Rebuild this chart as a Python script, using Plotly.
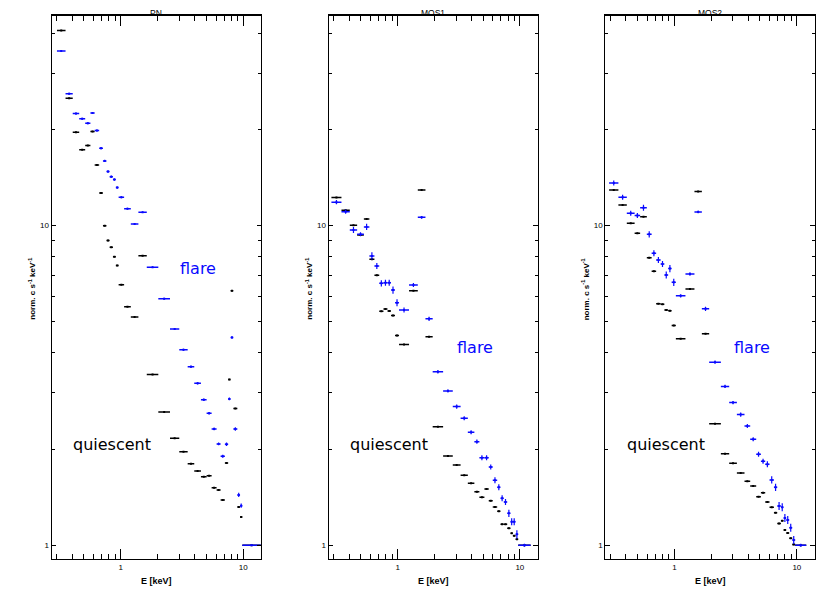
import numpy as np
import plotly.graph_objects as go

BLUE = "#0a0aff"
BLACK = "#000000"
FONT = "Liberation Sans"

# energy bin edges (keV) and spectra, one set per camera
PN_EDGES = [0.3006, 0.3533, 0.4045, 0.4569, 0.5114, 0.5641, 0.6113, 0.6653, 0.7145,
            0.7630, 0.8100, 0.8623, 0.9104, 0.9596, 1.064, 1.207, 1.392, 1.630, 2.026,
            2.524, 3.006, 3.520, 3.984, 4.519, 5.029, 5.525, 6.067, 6.542, 7.091, 7.544,
            7.891, 8.318, 8.967, 9.434, 9.85, 13.94]
PN_QUIESCENT = [40.75, 25.04, 19.60, 17.29, 17.80, 19.69, 15.49, 12.66, 10.0, 8.99, 8.56,
                7.99, 7.50, 6.53, 5.575, 5.18, 8.05, 3.42, 2.61, 2.16, 1.963, 1.80, 1.708,
                1.639, 1.651, 1.514, 1.489, 1.386, 1.809, 3.30, 6.26, 2.68, 1.318, 1.226, 1.0]
PN_FLARE = [35.2, 25.88, 22.41, 21.61, 20.91, 22.52, 19.83, 17.47, 15.94, 14.76, 14.23,
            13.93, 13.15, 12.27, 11.30, 10.12, 11.01, 7.41, 5.91, 4.75, 4.09, 3.62, 3.21,
            2.855, 2.588, 2.311, 2.075, 1.898, 2.07, 2.87, 4.47, 2.311, 1.437, 1.330, 1.0]
PN_FLARE_ERR_PCT = [0.6, 0.6, 0.7, 0.7, 0.7, 0.7, 0.7, 0.8, 0.8, 0.8, 0.8, 0.8, 0.8, 0.7,
                    0.6, 0.6, 0.6, 0.6, 0.6, 0.7, 0.7, 0.8, 0.8, 0.9, 0.9, 1.0, 1.0, 1.1,
                    1.2, 1.0, 0.8, 1.2, 1.5, 1.5, 0.5]

MOS1_EDGES = [0.2866, 0.3463, 0.4052, 0.4654, 0.5283, 0.5862, 0.6446, 0.7058, 0.7642,
              0.8242, 0.8809, 0.9502, 1.025, 1.238, 1.460, 1.687, 1.933, 2.353, 2.823,
              3.272, 3.750, 4.241, 4.663, 5.125, 5.561, 5.998, 6.520, 6.938, 7.386, 7.877,
              8.386, 8.759, 9.218, 9.701, 12.25]
MOS1_QUIESCENT = [12.24, 11.17, 10.03, 9.35, 10.49, 7.85, 7.00, 5.40, 5.48, 5.41, 5.23,
                  4.53, 4.25, 6.25, 12.93, 4.49, 2.35, 1.903, 1.783, 1.656, 1.563, 1.471,
                  1.413, 1.500, 1.379, 1.318, 1.278, 1.163, 1.163, 1.130, 1.090, 1.071,
                  1.044, 1.0]
MOS1_FLARE = [11.84, 11.06, 9.69, 9.40, 9.91, 8.04, 7.48, 6.60, 6.63, 6.63, 6.29, 5.74,
              5.45, 6.52, 10.62, 5.11, 3.49, 3.04, 2.715, 2.497, 2.257, 2.109, 1.880,
              1.880, 1.758, 1.597, 1.519, 1.403, 1.366, 1.259, 1.185, 1.185, 1.082, 1.0]
MOS1_FLARE_ERR_PCT = [1.5, 1.5, 2.2, 1.5, 2.2, 2.6, 2.2, 2.2, 2.2, 2.2, 2.6, 2.6, 1.8,
                      1.5, 1.0, 1.5, 1.2, 1.2, 1.5, 1.5, 1.5, 1.5, 1.8, 1.8, 1.8, 2.2,
                      2.2, 2.2, 2.2, 2.6, 2.6, 2.6, 2.9, 1.0]

MOS2_EDGES = [0.2924, 0.3484, 0.4081, 0.4727, 0.5243, 0.5947, 0.6511, 0.7086, 0.7712,
              0.8270, 0.8882, 0.9487, 1.027, 1.230, 1.457, 1.675, 1.922, 2.395, 2.801,
              3.237, 3.736, 4.159, 4.656, 5.087, 5.516, 5.982, 6.499, 6.914, 7.413, 7.786,
              8.191, 8.668, 9.171, 9.703, 11.94]
MOS2_QUIESCENT = [12.93, 11.61, 10.17, 9.47, 10.67, 7.94, 7.20, 5.70, 5.68, 5.45, 5.42,
                  4.87, 4.43, 6.34, 12.78, 4.59, 2.40, 1.934, 1.805, 1.684, 1.586, 1.533,
                  1.419, 1.461, 1.366, 1.315, 1.265, 1.169, 1.194, 1.117, 1.093, 1.052,
                  1.005, 1.0]
MOS2_FLARE = [13.60, 12.27, 10.94, 10.75, 11.38, 9.39, 8.20, 7.81, 7.59, 7.01, 7.34, 6.65,
              6.03, 7.06, 11.04, 5.49, 3.74, 3.14, 2.795, 2.563, 2.362, 2.146, 1.926,
              1.832, 1.792, 1.601, 1.519, 1.327, 1.315, 1.217, 1.200, 1.135, 1.039, 1.0]
MOS2_FLARE_ERR_PCT = [1.8, 1.8, 1.8, 1.8, 2.2, 2.2, 2.2, 2.2, 2.2, 2.6, 2.6, 2.6, 1.2,
                      1.2, 1.0, 1.5, 1.2, 1.2, 1.2, 1.5, 1.5, 1.5, 1.8, 1.8, 2.2, 2.6,
                      2.6, 2.9, 2.9, 2.9, 2.9, 2.9, 2.9, 1.0]

PANELS = [
    ("PN", PN_EDGES, PN_QUIESCENT, PN_FLARE, PN_FLARE_ERR_PCT),
    ("MOS1", MOS1_EDGES, MOS1_QUIESCENT, MOS1_FLARE, MOS1_FLARE_ERR_PCT),
    ("MOS2", MOS2_EDGES, MOS2_QUIESCENT, MOS2_FLARE, MOS2_FLARE_ERR_PCT),
]
LABEL_FLARE = [(4.31, 7.32), (4.28, 4.16), (4.28, 4.16)]
LABEL_QUIESCENT = [(0.852, 2.07), (0.848, 2.07), (0.855, 2.07)]

X_MAJOR = [1, 10]
X_MINOR = [0.3, 0.4, 0.5, 0.6, 0.7, 0.8, 0.9, 2, 3, 4, 5, 6, 7, 8, 9]
Y_MAJOR = [1, 10]
Y_MINOR = [2, 3, 4, 5, 6, 7, 8, 9, 20, 30, 40]
X_RANGE = [-0.565, 1.146]
Y_RANGE = [-0.043, 1.659]

# the page puts the figure 8px in from the window corner
OFF = 8
W, H = 830 - OFF, 593 - OFF
X_PIX = [(51.7, 261.0), (328.7, 537.7), (605.3, 814.7)]
Y_TOP, Y_BOTTOM = 15.0, 559.0


def px_x(v):
    return (v - OFF) / W


def px_y(v):
    return 1 - (v - OFF) / H


def bin_centres(edges):
    lo = np.array(edges[:-1])
    hi = np.array(edges[1:])
    return lo, hi, np.sqrt(lo * hi)


def spectrum_trace(edges, values, err_pct, color, aid):
    lo, hi, mid = bin_centres(edges)
    y = np.array(values)
    err = y * np.array(err_pct) / 100.0
    return go.Scatter(
        x=mid, y=y, mode="markers",
        marker={"color": color, "size": 2, "symbol": "square"},
        error_x={"type": "data", "symmetric": False, "array": hi - mid,
                 "arrayminus": mid - lo, "width": 0, "thickness": 1.5, "color": color},
        error_y={"type": "data", "array": err, "width": 0, "thickness": 1.2, "color": color},
        xaxis=f"x{aid}", yaxis=f"y{aid}", showlegend=False, hoverinfo="skip",
    )


def hidden_trace(edges, values, xa, ya):
    # invisible copy so the overlaying tick-only axes get drawn
    _, _, mid = bin_centres(edges)
    return go.Scatter(x=mid, y=values, mode="markers", marker={"opacity": 0},
                      xaxis=xa, yaxis=ya, showlegend=False, hoverinfo="skip")


def tick_setup(major, minor, major_len, minor_len, labels):
    return dict(
        type="log", showgrid=False, zeroline=False, ticks="inside", tickcolor=BLACK,
        tickwidth=1.2, ticklen=major_len, tickmode="array", tickvals=major,
        ticktext=[str(v) for v in major], showticklabels=labels,
        tickfont={"family": FONT, "size": 8, "color": BLACK},
        minor={"tickmode": "array", "tickvals": minor, "ticks": "inside",
               "ticklen": minor_len, "tickwidth": 1.2, "tickcolor": BLACK},
    )


def label(text, x, y, size, color=BLACK, family=FONT, xref="paper", yref="paper",
          angle=0, weight="normal", yanchor="middle"):
    return dict(text=text, x=x, y=y, xref=xref, yref=yref, showarrow=False,
                xanchor="center", yanchor=yanchor, textangle=angle, borderpad=0,
                font={"family": family, "size": size, "color": color, "weight": weight})


fig = go.Figure()
annotations = []
ydom = [px_y(Y_BOTTOM), px_y(Y_TOP)]

for i, (name, edges, quiet, flare, flare_err) in enumerate(PANELS):
    n = i + 1
    aid = "" if n == 1 else str(n)
    top_id = str(n + 3)
    fig.add_trace(spectrum_trace(edges, quiet, [0] * len(quiet), BLACK, aid))
    fig.add_trace(spectrum_trace(edges, flare, flare_err, BLUE, aid))
    fig.add_trace(hidden_trace(edges, quiet, f"x{top_id}", f"y{aid}"))
    fig.add_trace(hidden_trace(edges, quiet, f"x{aid}", f"y{top_id}"))

    x0, x1 = X_PIX[i]
    frame = dict(showline=True, linecolor=BLACK, linewidth=1.2, mirror=True)
    fig.layout[f"xaxis{aid}"] = dict(
        tick_setup(X_MAJOR, X_MINOR, 10, 5, True), **frame,
        domain=[px_x(x0), px_x(x1)], range=X_RANGE, anchor=f"y{aid}",
    )
    fig.layout[f"yaxis{aid}"] = dict(
        tick_setup(Y_MAJOR, Y_MINOR, 4.5, 3, True), **frame,
        domain=ydom, range=Y_RANGE, anchor=f"x{aid}",
    )
    # tick marks on the top and right edges of the frame
    fig.layout[f"xaxis{top_id}"] = dict(
        tick_setup(X_MAJOR, X_MINOR, 10, 5, False), showline=True, linecolor=BLACK,
        linewidth=1.2, overlaying=f"x{aid}", side="top", anchor="free",
        position=ydom[1], range=X_RANGE,
    )
    fig.layout[f"yaxis{top_id}"] = dict(
        tick_setup(Y_MAJOR, Y_MINOR, 4.5, 3, False), showline=False,
        overlaying=f"y{aid}", side="right", anchor=f"x{aid}", range=Y_RANGE,
    )

    cx = px_x((x0 + x1) / 2)
    annotations.append(label(name, cx, px_y(6.8), 8.5, yanchor="top"))
    annotations.append(label("E [keV]", cx, px_y(580.5), 9, weight="bold"))
    annotations.append(label("norm. c s<sup>-1</sup> keV<sup>-1</sup>",
                             px_x(x0 - 20), px_y(289), 8, angle=-90, weight="bold"))
    fx, fy = LABEL_FLARE[i]
    annotations.append(label("flare", np.log10(fx), np.log10(fy), 16, BLUE, "DejaVu Sans",
                             f"x{aid}", f"y{aid}"))
    qx, qy = LABEL_QUIESCENT[i]
    annotations.append(label("quiescent", np.log10(qx), np.log10(qy), 16, BLACK, "DejaVu Sans",
                             f"x{aid}", f"y{aid}"))

fig.update_layout(
    width=W, height=H,
    margin={"l": 0, "r": 0, "t": 0, "b": 0},
    paper_bgcolor="white", plot_bgcolor="white",
    annotations=annotations,
)

fig.write_html("out.html")
